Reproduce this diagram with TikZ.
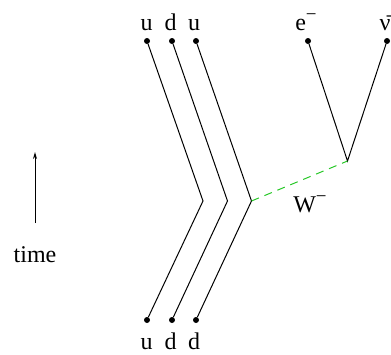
\documentclass[tikz,border=0pt]{standalone}
\usepackage{fontspec}
\setmainfont{Liberation Serif}
\usetikzlibrary{arrows.meta}
\tikzset{
  dot/.style={circle,fill=black,inner sep=0pt,minimum size=6pt},
  lbl/.style={font=\fontsize{24}{28}\selectfont,inner sep=0pt,anchor=base},
  fermion/.style={line width=1pt,black},
  boson/.style={line width=1pt,draw={rgb,255:red,40;green,200;blue,40},dash pattern=on 8pt off 6pt},
}
\newcommand{\supminus}{\raisebox{0.40em}{\fontsize{19}{19}\selectfont −}}
\begin{document}
\begin{tikzpicture}[x=1pt,y=-1pt]
\useasboundingbox (0,0) rectangle (391,354);
% incoming quarks (bottom)
\node[dot] (b1) at (147,320) {};
\node[dot] (b2) at (172,320) {};
\node[dot] (b3) at (196,320) {};
% outgoing quarks (top)
\node[dot] (t1) at (147,41) {};
\node[dot] (t2) at (172,41) {};
\node[dot] (t3) at (196,41) {};
% leptons
\node[dot] (e) at (308,41) {};
\node[dot] (nu) at (387,41) {};
% vertices
\coordinate (k1) at (203,201);
\coordinate (k2) at (227.5,201);
\coordinate (k3) at (251.5,201);
\coordinate (w) at (347.5,161);
% lines
\draw[fermion] (b1) -- (k1) -- (t1);
\draw[fermion] (b2) -- (k2) -- (t2);
\draw[fermion] (b3) -- (k3) -- (t3);
\draw[fermion] (e) -- (w) -- (nu);
\draw[boson] (k3) -- (w);
% labels
\node[lbl] (lt1) at (146.5,30) {u};
\node[lbl] (lt2) at (170.5,30) {d};
\node[lbl] (lt3) at (194,30) {u};
\node[lbl] (lb1) at (146.5,349.5) {u};
\node[lbl] (lb2) at (170.5,349.5) {d};
\node[lbl] (lb3) at (194,349.5) {d};
\node[lbl] (le) at (306,30) {e\supminus};
\node[lbl] (lnu) at (385,30) {ν̄};
\node[lbl] (lw) at (310,212) {W\supminus};
% time arrow
\node[lbl] (ltime) at (35,262) {time};
\coordinate (ta) at (35,223);
\coordinate (tb) at (35,152);
\draw[line width=1pt,-{Stealth[length=7pt,width=4pt]}] (ta) -- (tb);
\end{tikzpicture}
\end{document}
